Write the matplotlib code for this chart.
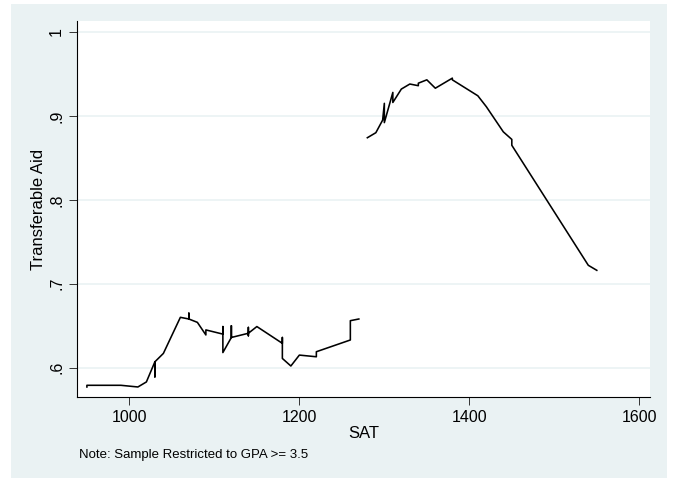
import matplotlib
matplotlib.use("Agg")
import matplotlib.pyplot as plt
from matplotlib.patches import Rectangle

plt.rcParams['font.family'] = ['Liberation Sans', 'DejaVu Sans']

# lower segment (SAT below cutoff), points in drawing order
sat_low = [950, 950, 990, 1010, 1020, 1030, 1030, 1030, 1040, 1060, 1070, 1070, 1070,
           1080, 1090, 1090, 1110, 1110, 1110, 1120, 1120, 1120, 1140, 1140, 1140, 1140,
           1150, 1180, 1180, 1180, 1190, 1200, 1220, 1220, 1260, 1260, 1270]
aid_low = [0.577, 0.579, 0.579, 0.577, 0.583, 0.607, 0.589, 0.607, 0.617, 0.660, 0.658, 0.665, 0.658,
           0.654, 0.639, 0.645, 0.640, 0.649, 0.618, 0.636, 0.650, 0.636, 0.641, 0.648, 0.638, 0.641,
           0.649, 0.629, 0.636, 0.611, 0.602, 0.615, 0.613, 0.619, 0.633, 0.656, 0.658]

# upper segment
sat_high = [1280, 1290, 1298, 1300, 1300, 1310, 1310, 1320, 1330, 1340, 1340, 1350, 1360,
            1380, 1380, 1410, 1420, 1440, 1450, 1450, 1540, 1550]
aid_high = [0.874, 0.880, 0.895, 0.915, 0.892, 0.928, 0.916, 0.932, 0.938, 0.936, 0.939, 0.943, 0.933,
            0.945, 0.943, 0.924, 0.911, 0.881, 0.872, 0.865, 0.722, 0.716]

xticks = [1000, 1200, 1400, 1600]
yticks = [0.6, 0.7, 0.8, 0.9, 1.0]
ylabels = ['.6', '.7', '.8', '.9', '1']

bg = '#EAF2F3'

fig = plt.figure(figsize=(6.78, 4.78), dpi=100, facecolor='white')
fig.patches.append(Rectangle((11 / 678, 0), 656 / 678, 474 / 478,
                             transform=fig.transFigure, facecolor=bg,
                             edgecolor='none', zorder=-10))

ax = fig.add_axes([76.7 / 678, 80.7 / 478, 573.3 / 678, 376.3 / 478])
ax.set_zorder(1)
ax.set_facecolor('white')

ax.plot(sat_low, aid_low, color='black', lw=1.15)
ax.plot(sat_high, aid_high, color='black', lw=1.15)

ax.set_xlim(938, 1612.6)
ax.set_ylim(0.5647, 1.0131)
ax.set_xticks(xticks)
ax.set_yticks(yticks)
ax.set_yticklabels(ylabels, rotation=90, va='center')
ax.grid(axis='y', color=bg, lw=1.2)
ax.set_axisbelow(True)

for s in ['top', 'right']:
    ax.spines[s].set_visible(False)
for s in ['left', 'bottom']:
    ax.spines[s].set_color('black')
    ax.spines[s].set_linewidth(0.8)

ax.tick_params(axis='both', length=6, width=0.7, color='#333333', labelsize=11.5, pad=3)

ax.set_xlabel('SAT', fontsize=12, labelpad=1)
ax.set_ylabel('Transferable Aid', fontsize=12, labelpad=2)

fig.text(79 / 678, 1 - 455 / 478, 'Note: Sample Restricted to GPA >= 3.5',
         fontsize=9.5, va='center', ha='left')

fig.savefig('out.png', dpi=100, facecolor=fig.get_facecolor())
